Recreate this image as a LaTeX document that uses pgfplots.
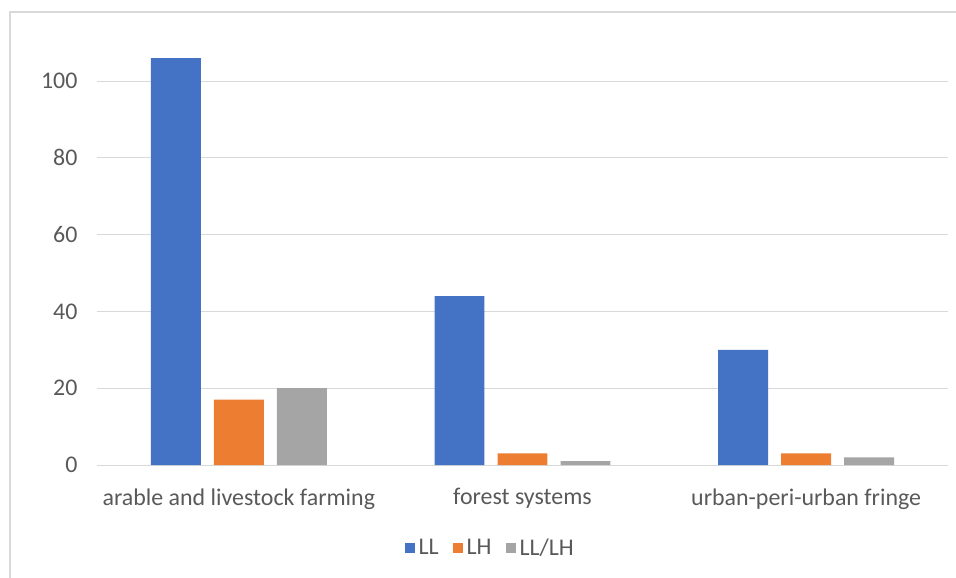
\documentclass[border=0pt]{standalone}
\usepackage{pgfplots}
\pgfplotsset{compat=1.18}
\usepackage{fontspec}
\setmainfont{Carlito}
\definecolor{cblue}{HTML}{4472C4}
\definecolor{corange}{HTML}{ED7D31}
\definecolor{cgray}{HTML}{A5A5A5}
\definecolor{gridc}{HTML}{D9D9D9}
\definecolor{txt}{HTML}{595959}
\begin{document}
\begin{tikzpicture}[x=1bp,y=1bp]
\useasboundingbox (-97bp,-113bp) rectangle (859bp,465bp);
\draw[gridc, line width=1.5bp] (-87bp,-113bp) -- (-87bp,453bp) -- (859bp,453bp);
\begin{axis}[
  at={(0,0)}, anchor=south west,
  scale only axis, width=851bp, height=430bp,
  xmin=-0.5, xmax=2.5, ymin=0, ymax=112,
  ybar=0pt, bar width=0.176,
  xtick={0,1,2},
  xticklabels={arable and livestock farming, forest systems, urban-peri-urban fringe},
  ytick={0,20,40,60,80,100},
  ymajorgrids, xmajorgrids=false,
  grid style={draw=gridc, line width=1bp},
  axis x line*=bottom,
  x axis line style={draw=gridc, line width=1bp},
  y axis line style={draw=none},
  major tick length=0pt,
  tick label style={font=\fontsize{24}{28}\selectfont, text=txt},
  /pgf/number format/assume math mode=true,
  xticklabel style={yshift=-20bp},
  yticklabel style={xshift=-16bp},
  legend columns=-1,
  legend style={draw=none, font=\fontsize{24}{28}\selectfont, text=txt,
    at={(0.462,-0.193)}, anchor=center,
    /tikz/every odd column/.append style={column sep=2bp},
    /tikz/every even column/.append style={column sep=12bp}},
  legend image code/.code={\fill[#1] (0bp,-5bp) rectangle (10bp,5bp);},
]
\addplot[fill=cblue, draw=none, bar shift=-0.222] coordinates {(0,106) (1,44) (2,30)};
\addplot[fill=corange, draw=none, bar shift=0] coordinates {(0,17) (1,3) (2,3)};
\addplot[fill=cgray, draw=none, bar shift=0.222] coordinates {(0,20) (1,1) (2,2)};
\legend{LL, LH, LL/LH}
\end{axis}
\end{tikzpicture}
\end{document}
